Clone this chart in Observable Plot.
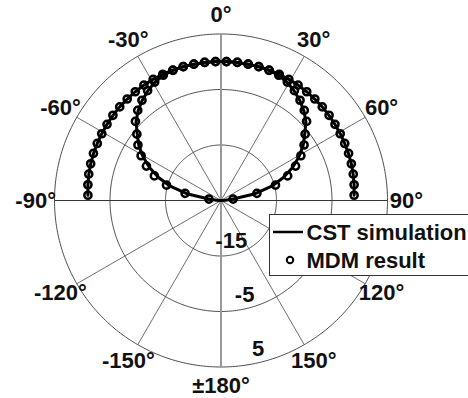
<!DOCTYPE html>
<html><head><meta charset="utf-8">
<script src="https://cdn.jsdelivr.net/npm/d3@7"></script>
<script src="https://cdn.jsdelivr.net/npm/@observablehq/plot@0.6"></script>
<style>
body{margin:0;background:#fff;overflow:hidden;}
#wrap{position:relative;width:468px;height:398px;overflow:hidden;}
#legend{position:absolute;left:0;top:0;pointer-events:none;}
</style></head><body><div id="wrap"></div>
<script>
// ---- data (angles in degrees, values in dB) ----
const angles = [-87.75,-83.25,-78.75,-74.25,-69.75,-65.25,-60.75,-56.25,-51.75,-47.25,-42.75,-38.25,-33.75,-29.25,-24.75,-20.25,-15.75,-11.25,-6.75,-2.25,
                 2.25,6.75,11.25,15.75,20.25,24.75,29.25,33.75,38.25,42.75,47.25,51.75,56.25,60.75,65.25,69.75,74.25,78.75,83.25,87.75];
const outerMDM = [-1.0,-0.85,-0.7,-0.6,-0.5,-0.45,-0.38,-0.3,-0.2,-0.15,-0.1,-0.05,0,0,0.05,0.05,0.05,0.05,0.05,0.05,
                  0.05,0.05,0.05,0.05,0.05,0.05,0,0,-0.05,-0.1,-0.15,-0.2,-0.3,-0.38,-0.45,-0.5,-0.6,-0.7,-0.85,-1.0];
const outerCST = [-1.0,-0.85,-0.72,-0.6,-0.52,-0.45,-0.38,-0.3,-0.22,-0.15,-0.1,-0.05,0,0.02,0.05,0.05,0.05,0.05,0.05,0.05,
                  0.05,0.05,0.05,0.05,0.05,0.05,0.02,0,-0.05,-0.1,-0.15,-0.22,-0.3,-0.38,-0.45,-0.52,-0.6,-0.72,-0.85,-1.0];
const innerMDM = [null,-22.8,-18.4,-14.8,-12.2,-10.2,-8.5,-7.0,-5.7,-4.0,-2.9,-2.0,-1.2,-0.55,-0.15,0,0.05,0.05,0.05,0.05,
                  0.05,0.05,0.05,0.05,0,-0.15,-0.55,-1.2,-2.0,-2.9,-4.0,-5.7,-7.0,-8.5,-10.2,-12.2,-14.8,-18.4,-22.8,null];
const innerCSTAngles = [-90,-87.75,-83.25,-78.75,-74.25,-69.75,-65.25,-60.75,-56.25,-51.75,-47.25,-42.75,-38.25,-33.75,-29.25,-24.75,-20.25,-15.75,-11.25,-6.75,-2.25,
                 2.25,6.75,11.25,15.75,20.25,24.75,29.25,33.75,38.25,42.75,47.25,51.75,56.25,60.75,65.25,69.75,74.25,78.75,83.25,87.75,90];
const innerCST = [-25,-24.2,-23.0,-18.7,-15.5,-13.0,-10.8,-8.9,-7.2,-5.8,-4.15,-3.0,-2.05,-1.25,-0.6,-0.15,0,0.05,0.05,0.05,0.05,
                  0.05,0.05,0.05,0.05,0,-0.15,-0.6,-1.25,-2.05,-3.0,-4.15,-5.8,-7.2,-8.9,-10.8,-13.0,-15.5,-18.7,-23.0,-24.2,-25];
const ringValues = [-15, -5, 5];
const ringLabels = ["-15", "-5", "5"];
const spokeAngles = [0, 30, 60, 90, 120, 150, 180, -150, -120, -90, -60, -30];
const angleLabels = ["0°", "30°", "60°", "90°", "120°", "150°", "±180°", "-150°", "-120°", "-90°", "-60°", "-30°"];
const seriesNames = ["CST simulation", "MDM result"];

// ---- polar helpers: angle -> longitude, dB -> latitude ----
const CENTER_DB = -25, OUTER_DB = 5;
const lon = t => 180 - t;
const lat = v => Math.min(89.9999, 90 - (v - CENTER_DB));

const rows = (ang, vals, series, curve) =>
  ang.map((a, i) => ({a, v: vals[i], series, curve})).filter(d => d.v != null);
const cstRows = [...rows(angles, outerCST, "CST", "outer"), ...rows(innerCSTAngles, innerCST, "CST", "inner")];
const mdmRows = [...rows(angles, outerMDM, "MDM", "outer"), ...rows(angles, innerMDM, "MDM", "inner")];

const spokes = spokeAngles.map(a => ({a, kind: (a === 0 || a === 180) ? "v" : (Math.abs(a) === 90 ? "h" : "o")}));
const labelRows = spokeAngles.map((a, i) => ({a, t: angleLabels[i]}));
const FONT = "'Liberation Sans', Arial, sans-serif";
const labelStyle = {fontSize: 22, fontWeight: "bold", fill: "#111", fontFamily: FONT};

const chart = Plot.plot({
  width: 468, height: 398,
  marginLeft: 54, marginRight: 81, marginTop: 33, marginBottom: 31,
  style: {background: "white", fontFamily: FONT, overflow: "visible"},
  projection: {
    type: "azimuthal-equidistant",
    rotate: [0, -90],
    clip: false,
    domain: d3.geoCircle().center([0, 90]).radius(OUTER_DB - CENTER_DB).precision(1)()
  },
  marks: [
    Plot.geo(ringValues.map(v => d3.geoCircle().center([0, 90]).radius(v - CENTER_DB).precision(1)()),
      {stroke: "#3a3a3a", strokeWidth: 0.9, fill: "none"}),
    Plot.link(spokes.filter(d => d.kind === "o"), {x1: d => lon(d.a), y1: 90, x2: d => lon(d.a), y2: lat(OUTER_DB), stroke: "#4a4a4a", strokeWidth: 0.8}),
    Plot.link(spokes.filter(d => d.kind === "h"), {x1: d => lon(d.a), y1: 90, x2: d => lon(d.a), y2: lat(OUTER_DB), stroke: "#333", strokeWidth: 1.2}),
    Plot.link(spokes.filter(d => d.kind === "v"), {x1: d => lon(d.a), y1: 90, x2: d => lon(d.a), y2: lat(OUTER_DB), stroke: "#999", strokeWidth: 2}),
    Plot.line(cstRows, {x: d => lon(d.a), y: d => lat(d.v), z: "curve", stroke: "black", strokeWidth: 3}),
    Plot.dot(mdmRows, {x: d => lon(d.a), y: d => lat(d.v), r: 3.6, stroke: "black", strokeWidth: 2.5, fill: "none"}),
    Plot.text(labelRows, {
      x: d => lon(d.a), y: lat(CENTER_DB + 33.4), text: "t", ...labelStyle
    }),
    Plot.text(ringValues.map((v, i) => ({v, t: ringLabels[i]})), {
      x: lon(166), y: d => lat(d.v - 2.4), text: "t", ...labelStyle
    })
  ]
});
const wrap = document.getElementById("wrap");
wrap.appendChild(chart);

// ---- legend overlay ----
const lg = d3.select(wrap).append("svg").attr("id", "legend").attr("width", 468).attr("height", 398);
lg.append("rect").attr("x", 269.5).attr("y", 214.5).attr("width", 260).attr("height", 61).attr("fill", "white").attr("stroke", "#333").attr("stroke-width", 1);
lg.append("line").attr("x1", 273).attr("x2", 303).attr("y1", 232).attr("y2", 232).attr("stroke", "black").attr("stroke-width", 2.5);
lg.append("circle").attr("cx", 290).attr("cy", 260).attr("r", 3.2).attr("fill", "none").attr("stroke", "black").attr("stroke-width", 2);
lg.selectAll("text.lt").data(seriesNames).join("text").attr("class", "lt")
  .attr("x", 306.5).attr("y", (d, i) => 240 + i * 28.3)
  .attr("font-family", FONT).attr("font-size", 22).attr("font-weight", "bold").attr("fill", "#111")
  .text(d => d);
</script></body></html>
